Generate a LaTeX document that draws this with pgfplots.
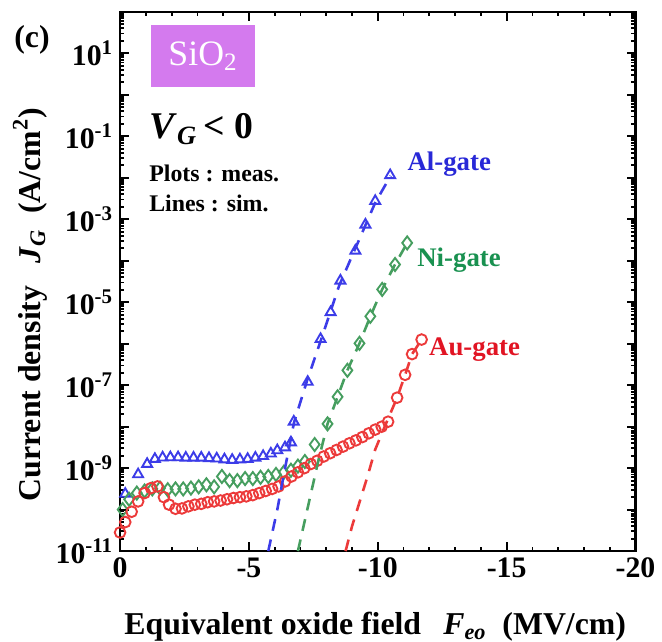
\documentclass[border=0pt]{standalone}
\usepackage{fontspec}
\setmainfont{Liberation Serif}
\usepackage{pgfplots}
\pgfplotsset{compat=1.18}

\definecolor{alblue}{RGB}{60,60,232}
\definecolor{nigreen}{RGB}{70,158,95}
\definecolor{aured}{RGB}{236,58,58}
\definecolor{altext}{RGB}{40,40,215}
\definecolor{nitext}{RGB}{25,145,80}
\definecolor{autext}{RGB}{225,20,35}
\definecolor{sio}{RGB}{212,122,238}

\begin{document}
\begin{tikzpicture}
\begin{axis}[
  scale only axis, width=259.5pt, height=271.5pt,
  ymode=log, x dir=reverse,
  xmin=-20, xmax=0, ymin=1e-11, ymax=1e2,
  xtick={-20,-15,-10,-5,0}, xticklabels={-20,-15,-10,-5,0},
  minor x tick num=4,
  ytickten={-11,...,2},
  yticklabels={{10\textsuperscript{-11}},{},{10\textsuperscript{-9}},{},{10\textsuperscript{-7}},{},{10\textsuperscript{-5}},{},{10\textsuperscript{-3}},{},{10\textsuperscript{-1}},{},{10\textsuperscript{1}},{}},
  minor ytick={
    2e-11,3e-11,4e-11,5e-11,6e-11,7e-11,8e-11,9e-11,
    2e-10,3e-10,4e-10,5e-10,6e-10,7e-10,8e-10,9e-10,
    2e-9,3e-9,4e-9,5e-9,6e-9,7e-9,8e-9,9e-9,
    2e-8,3e-8,4e-8,5e-8,6e-8,7e-8,8e-8,9e-8,
    2e-7,3e-7,4e-7,5e-7,6e-7,7e-7,8e-7,9e-7,
    2e-6,3e-6,4e-6,5e-6,6e-6,7e-6,8e-6,9e-6,
    2e-5,3e-5,4e-5,5e-5,6e-5,7e-5,8e-5,9e-5,
    2e-4,3e-4,4e-4,5e-4,6e-4,7e-4,8e-4,9e-4,
    2e-3,3e-3,4e-3,5e-3,6e-3,7e-3,8e-3,9e-3,
    2e-2,3e-2,4e-2,5e-2,6e-2,7e-2,8e-2,9e-2,
    2e-1,3e-1,4e-1,5e-1,6e-1,7e-1,8e-1,9e-1,
    2,3,4,5,6,7,8,9,
    20,30,40,50,60,70,80,90},
  tick align=inside, tick pos=both,
  major tick length=4.5pt, minor tick length=2.2pt,
  tick style={black, line width=0.9pt},
  axis line style={black, line width=1.1pt},
  tick label style={font=\fontsize{15}{15}\selectfont\bfseries},
  clip mode=individual,
]
% Al-gate, measured
\addplot[only marks, mark=triangle, mark size=2.9pt, alblue, mark options={line width=0.95pt}] coordinates {
(-0.2,2.40e-10) (-0.7,7.08e-10) (-1.05,1.26e-9) (-1.35,1.66e-9) (-1.65,1.80e-9)
(-1.95,1.82e-9) (-2.25,1.82e-9) (-2.55,1.78e-9) (-2.85,1.78e-9) (-3.15,1.78e-9)
(-3.45,1.74e-9) (-3.75,1.70e-9) (-4.05,1.62e-9) (-4.35,1.58e-9) (-4.65,1.62e-9)
(-4.95,1.66e-9) (-5.25,1.78e-9) (-5.55,1.95e-9) (-5.85,2.24e-9) (-6.1,2.69e-9)
(-6.4,3.16e-9) (-6.63,4.17e-9)
(-6.74,1.32e-8) (-7.28,1.20e-7) (-7.78,1.29e-6) (-8.17,5.75e-6) (-8.55,3.31e-5)
(-9.13,1.74e-4) (-9.52,7.41e-4) (-9.90,2.75e-3) (-10.48,1.15e-2)};
% Ni-gate, measured
\addplot[only marks, mark=diamond, mark size=3.3pt, nigreen, mark options={line width=0.95pt}] coordinates {
(-0.1,1.00e-10) (-0.35,1.78e-10) (-0.65,2.51e-10) (-0.95,2.82e-10) (-1.25,3.16e-10)
(-1.55,3.31e-10) (-1.85,3.02e-10) (-2.15,3.16e-10) (-2.45,3.16e-10) (-2.75,3.31e-10)
(-3.05,3.55e-10) (-3.35,3.98e-10) (-3.65,3.55e-10) (-3.95,6.31e-10) (-4.25,5.01e-10)
(-4.55,5.01e-10) (-4.85,5.62e-10) (-5.15,5.62e-10) (-5.45,6.03e-10) (-5.75,6.31e-10)
(-6.05,7.08e-10) (-6.35,7.94e-10) (-6.63,8.91e-10) (-6.9,1.12e-9) (-7.17,1.45e-9)
(-7.55,3.72e-9) (-8.05,1.17e-8) (-8.44,5.25e-8) (-8.82,2.29e-7) (-9.29,1.02e-6)
(-9.71,4.57e-6) (-10.17,2.04e-5) (-10.67,8.13e-5) (-11.14,2.69e-4)};
% Au-gate, measured
\addplot[only marks, mark=o, mark size=2.7pt, aured, mark options={line width=0.95pt}] coordinates {
(0,2.82e-11) (-0.2,5.01e-11) (-0.45,8.91e-11) (-0.7,1.58e-10) (-0.95,2.51e-10)
(-1.2,3.31e-10) (-1.45,3.63e-10) (-1.7,2.00e-10) (-1.9,1.32e-10) (-2.15,1.05e-10)
(-2.4,1.07e-10) (-2.65,1.20e-10) (-2.9,1.32e-10) (-3.15,1.38e-10) (-3.4,1.51e-10)
(-3.65,1.58e-10) (-3.9,1.66e-10) (-4.15,1.78e-10) (-4.4,1.91e-10) (-4.65,2.00e-10)
(-4.9,2.09e-10) (-5.15,2.24e-10) (-5.4,2.51e-10) (-5.65,2.82e-10) (-5.9,3.16e-10)
(-6.15,3.63e-10) (-6.4,4.79e-10) (-6.65,6.31e-10) (-6.9,7.94e-10) (-7.15,1.00e-9)
(-7.4,1.26e-9) (-7.65,1.51e-9) (-7.9,1.91e-9) (-8.15,2.29e-9) (-8.4,2.75e-9)
(-8.65,3.31e-9) (-8.9,3.98e-9) (-9.15,4.68e-9) (-9.4,5.62e-9) (-9.65,6.92e-9)
(-9.9,8.51e-9) (-10.15,1.00e-8) (-10.4,1.32e-8) (-10.75,5.01e-8) (-11.06,1.78e-7)
(-11.33,5.62e-7) (-11.7,1.26e-6)};
% simulations
\addplot[alblue, line width=1.3pt, dash pattern=on 6pt off 4.5pt] coordinates {
(-5.75,1e-11) (-6.1,1e-10) (-6.4,1e-9) (-6.75,1.26e-8) (-7.25,1.26e-7) (-7.8,1.26e-6)
(-8.5,2.51e-5) (-9.2,2.51e-4) (-9.9,2.51e-3) (-10.5,1.12e-2)};
\addplot[nigreen, line width=1.3pt, dash pattern=on 6pt off 4.5pt] coordinates {
(-6.9,1e-11) (-7.3,1.26e-10) (-7.7,1.58e-9) (-8.05,1.17e-8) (-8.44,5.25e-8) (-8.82,2.29e-7)
(-9.29,1.02e-6) (-9.71,4.57e-6) (-10.17,2.04e-5) (-10.67,8.13e-5) (-11.14,2.69e-4)};
\addplot[aured, line width=1.3pt, dash pattern=on 6pt off 4.5pt] coordinates {
(-8.75,1e-11) (-9.0,3.98e-11) (-9.3,1.58e-10) (-9.6,6.31e-10) (-9.9,2.82e-9) (-10.3,1.12e-8)
(-10.75,5.01e-8) (-11.06,1.78e-7) (-11.33,5.62e-7) (-11.7,1.26e-6)};

% invisible frame giving the page the reference's margins
\path (rel axis cs:-0.233,-0.168) (rel axis cs:1.042,1.022);

\node[inner sep=0pt, font=\fontsize{16}{16}\selectfont\bfseries] at (rel axis cs:-0.171,0.948) {(c)};
\node[fill=sio, minimum width=52.5pt, minimum height=31.5pt, text=white,
  font=\fontsize{18}{18}\selectfont] at (rel axis cs:0.161,0.918) {SiO\textsubscript{2}};
\node[anchor=west, font=\fontsize{19}{19}\selectfont\bfseries, inner sep=0pt] at (rel axis cs:0.056,0.783)
  {\textit{V}\textsubscript{\textit{G}}\,< 0};
\node[anchor=west, font=\fontsize{12}{12}\selectfont\bfseries, inner sep=0pt] at (rel axis cs:0.056,0.700) {Plots : meas.};
\node[anchor=west, font=\fontsize{12}{12}\selectfont\bfseries, inner sep=0pt] at (rel axis cs:0.056,0.645) {Lines : sim.};
\node[anchor=west, font=\fontsize{13.5}{13.5}\selectfont\bfseries, text=altext, inner sep=0pt] at (rel axis cs:0.557,0.718) {Al-gate};
\node[anchor=west, font=\fontsize{13.5}{13.5}\selectfont\bfseries, text=nitext, inner sep=0pt] at (rel axis cs:0.576,0.540) {Ni-gate};
\node[anchor=west, font=\fontsize{13.5}{13.5}\selectfont\bfseries, text=autext, inner sep=0pt] at (rel axis cs:0.599,0.374) {Au-gate};
\node[rotate=90, inner sep=0pt, font=\fontsize{16}{16}\selectfont\bfseries] at (rel axis cs:-0.175,0.457)
  {Current density\hspace{0.7em}\textit{J}\textsubscript{\textit{G}}\hspace{0.5em}(A/cm\textsuperscript{2})};
\node[inner sep=0pt, font=\fontsize{16}{16}\selectfont\bfseries] at (rel axis cs:0.495,-0.14)
  {Equivalent oxide field\hspace{0.7em}\textit{F}\textsubscript{\textit{eo}}\hspace{0.5em}(MV/cm)};
\end{axis}
\end{tikzpicture}
\end{document}
